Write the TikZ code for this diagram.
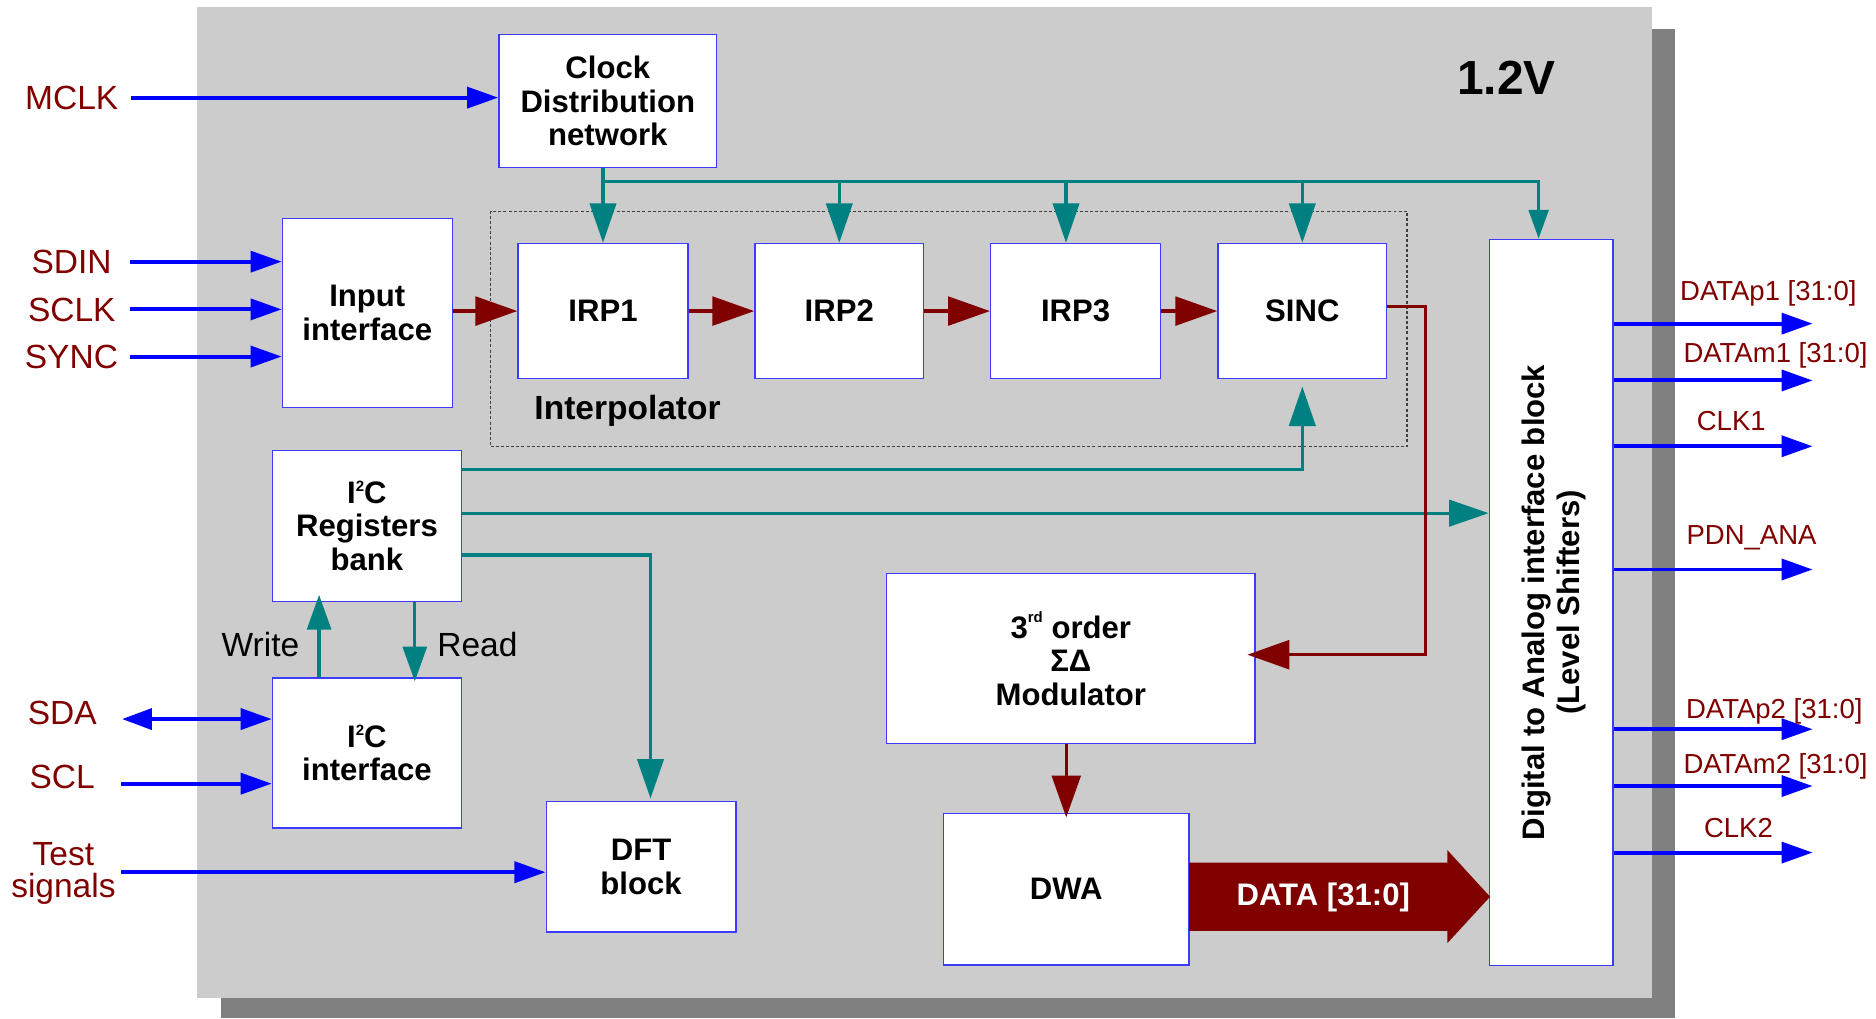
\documentclass[tikz,border=0pt]{standalone}
\usepackage{fontspec}
\setmainfont{Liberation Sans}
\usetikzlibrary{arrows.meta}
\definecolor{panelgray}{HTML}{CCCCCC}
\definecolor{shadowgray}{HTML}{808080}
\definecolor{busteal}{HTML}{008080}
\definecolor{sigred}{HTML}{800000}
\definecolor{pinblue}{HTML}{0000FF}
\definecolor{edgeblue}{HTML}{3C3CFF}
% small raised index (I2C, 3rd)
\newcommand\smallsup[2]{\raisebox{#2}{\fontsize{12.5}{12.5}\selectfont #1}}
\begin{document}
\begin{tikzpicture}[x=1pt,y=-1pt,
  blk/.style={draw=edgeblue, line width=1.2pt, fill=white, inner sep=0pt, align=center,
              font=\fontsize{26}{28}\selectfont\bfseries},
  pinlbl/.style={text=sigred, inner sep=0pt, font=\fontsize{28}{28}\selectfont,
                 text height=20pt, text depth=0pt},
  outlbl/.style={text=sigred, inner sep=0pt, font=\fontsize{23}{25}\selectfont,
                 text height=16.5pt, text depth=0pt},
  rwlbl/.style={inner sep=0pt, font=\fontsize{28}{28}\selectfont, text height=20pt, text depth=0pt},
  pin/.style={draw=pinblue, line width=3.3pt, -{Triangle[length=26pt,width=17.5pt]}},
  pinboth/.style={draw=pinblue, line width=3.3pt,
                  {Triangle[length=25pt,width=17.5pt]}-{Triangle[length=26pt,width=17.5pt]}},
  bus/.style={draw=busteal, line width=2.7pt},
  ctl/.style={bus, -{Triangle[length=33pt,width=22pt]}},
  ctlsmall/.style={bus, -{Triangle[length=29pt,width=20pt]}},
  ctltiny/.style={bus, -{Triangle[length=24pt,width=16.5pt]}},
  dataflow/.style={draw=sigred, line width=2.8pt, -{Triangle[length=35pt,width=24pt]}},
]
\useasboundingbox (0,0) rectangle (1568,851);

% chip panel with drop shadow
\fill[shadowgray] (184.3,24) rectangle (1400,851);
\fill[panelgray] (164.8,5.6) rectangle (1380.5,834.4);

% interpolator group
\node[draw=black!75, dash pattern=on 2.5pt off 1.8pt, line width=0.9pt,
      minimum width=766pt, minimum height=197pt, inner sep=0pt] (interp) at (793,275) {};
\node[font=\fontsize{28}{28}\selectfont\bfseries, inner sep=0pt] (interplbl) at (524.5,343) {Interpolator};

% blocks
\node[blk, minimum width=182pt, minimum height=111pt] (clk) at (508,84.5) {Clock\\Distribution\\network};
\node[blk, minimum width=142pt, minimum height=158pt] (inp) at (307,261.5) {Input\\interface};
\node[blk, minimum width=142pt, minimum height=113pt] (irp1) at (504,260) {IRP1};
\node[blk, minimum width=141pt, minimum height=113pt] (irp2) at (701.5,260) {IRP2};
\node[blk, minimum width=142pt, minimum height=113pt] (irp3) at (899,260) {IRP3};
\node[blk, minimum width=141pt, minimum height=113pt] (sinc) at (1088.5,260) {SINC};
\node[blk, minimum width=158pt, minimum height=126.3pt] (reg) at (306.7,439.5) {I\smallsup{2}{10pt}C\\Registers\\bank};
\node[blk, minimum width=158pt, minimum height=125.5pt] (i2c) at (306.7,629.3) {I\smallsup{2}{10pt}C\\interface};
\node[blk, minimum width=158.4pt, minimum height=109pt] (dft) at (535.8,724.5) {DFT\\block};
\node[blk, minimum width=308pt, minimum height=142.4pt] (mod) at (895,550.4) {3\smallsup{rd}{13pt} order\\ΣΔ\\Modulator};
\node[blk, minimum width=205.4pt, minimum height=126.8pt] (dwa) at (891.2,743.2) {DWA};
\node[blk, minimum width=103.2pt, minimum height=607pt] (dac) at (1296.4,503.5) {};
\node[rotate=90, align=center, inner sep=0pt, font=\fontsize{26}{29}\selectfont\bfseries]
     (dactxt) at (1299,503.5) {Digital to Analog interface block\\(Level Shifters)};
\node[font=\fontsize{40}{40}\selectfont\bfseries, inner sep=0pt] (vdd) at (1259,65) {1.2V};

% clock distribution bus
\coordinate (tapA) at (504,152);
\coordinate (tapC) at (891,152);
\coordinate (tapE) at (1286,152);
\draw[ctltiny] (clk.south -| tapA) -- (tapA) -- (tapE) -- (tapE |- dac.north);
\draw[ctl] (tapA) -- (irp1.north);
\draw[ctl] (irp2.north |- tapA) -- (irp2.north);
\draw[ctl] (tapC) -- (tapC |- irp3.north);
\draw[ctl] (sinc.north |- tapA) -- (sinc.north);

% register bank control lines
\coordinate (sincUp) at (1088.5,392.4);
\coordinate (dacIn) at (1245,428.9);
\coordinate (dftBend) at (543.7,463.9);
\draw[ctl, shorten >=6pt] (reg.east |- sincUp) -- (sincUp) -- (sinc.south);
\draw[ctl] (reg.east |- dacIn) -- (dac.west |- dacIn);
\draw[ctl, shorten >=2pt] (reg.east |- dftBend) -- (dftBend) -- (dftBend |- dft.north);
\draw[ctlsmall, shorten >=-6pt] ([xshift=-40pt]i2c.north) -- ([xshift=-40pt]reg.south);
\draw[ctlsmall, shorten >=-3.5pt] ([xshift=40pt]reg.south) -- ([xshift=40pt]i2c.north);
\node[rwlbl] (wrlbl) at (217.7,539) {Write};
\node[rwlbl] (rdlbl) at (399,539) {Read};

% data path
\draw[dataflow] (inp.east |- irp1.west) -- (irp1.west);
\draw[dataflow] (irp1.east) -- (irp2.west);
\draw[dataflow] (irp2.east) -- (irp3.west);
\draw[dataflow] (irp3.east) -- (sinc.west);
\coordinate (bendA) at (1191.3,256.3);
\coordinate (bendB) at (1191.3,547.2);
\draw[dataflow, shorten >=-7pt] (sinc.east |- bendA) -- (bendA) -- (bendB) -- (mod.east |- bendB);
\draw[dataflow, shorten >=-4pt] (mod.south -| dwa.north) -- (dwa.north);

% wide output bus into the level shifters
\fill[sigred] (993.9,721) -- (1209.7,721) -- (1209.7,710.5) -- (1245.4,749.5)
  -- (1209.7,788.3) -- (1209.7,778) -- (993.9,778) -- cycle;
\node[text=white, font=\fontsize{26}{26}\selectfont\bfseries, inner sep=0pt] (buslbl) at (1106,750) {DATA [31:0]};

% input pins
\node[pinlbl] (mclk) at (60,81.6) {MCLK};
\coordinate (mclkS) at (109.5,81.6);
\draw[pin] (mclkS) -- (clk.west |- mclkS);
\node[pinlbl] (sdin) at (59.8,218.7) {SDIN};
\coordinate (sdinS) at (108.6,218.7);
\draw[pin] (sdinS) -- (inp.west |- sdinS);
\node[pinlbl] (sclk) at (60,258.6) {SCLK};
\coordinate (sclkS) at (108.6,258.6);
\draw[pin] (sclkS) -- (inp.west |- sclkS);
\node[pinlbl] (sync) at (59.7,298) {SYNC};
\coordinate (syncS) at (108.6,298);
\draw[pin] (syncS) -- (inp.west |- syncS);
\node[pinlbl] (sda) at (52,595.8) {SDA};
\coordinate (sdaS) at (102,601);
\draw[pinboth] (sdaS) -- (i2c.west |- sdaS);
\node[pinlbl] (scl) at (52,648.7) {SCL};
\coordinate (sclS) at (101.3,655);
\draw[pin] (sclS) -- (i2c.west |- sclS);
\node[text=sigred, inner sep=0pt, align=center, font=\fontsize{28}{27}\selectfont] (test) at (53,730) {Test\\signals};
\coordinate (testS) at (101.3,729);
\draw[pin] (testS) -- (dft.west |- testS);

% output pins
\coordinate (o1) at (1515,270.5);
\coordinate (o2) at (1515,318);
\coordinate (o3) at (1515,373);
\coordinate (o4) at (1515,476);
\coordinate (o5) at (1515,609.5);
\coordinate (o6) at (1515,657);
\coordinate (o7) at (1515,712.6);
\draw[pin] (dac.east |- o1) -- (o1);
\draw[pin] (dac.east |- o2) -- (o2);
\draw[pin] (dac.east |- o3) -- (o3);
\draw[pin] (dac.east |- o4) -- (o4);
\draw[pin] (dac.east |- o5) -- (o5);
\draw[pin] (dac.east |- o6) -- (o6);
\draw[pin] (dac.east |- o7) -- (o7);
\node[outlbl] (l1) at (1478,242.6) {DATAp1 [31:0]};
\node[outlbl] (l2) at (1484,295) {DATAm1 [31:0]};
\node[outlbl] (l3) at (1447,351.6) {CLK1};
\node[outlbl] (l4) at (1464,447) {PDN\_ANA};
\node[outlbl] (l5) at (1483,592) {DATAp2 [31:0]};
\node[outlbl] (l6) at (1484,638) {DATAm2 [31:0]};
\node[outlbl] (l7) at (1453,691.7) {CLK2};
\end{tikzpicture}
\end{document}
